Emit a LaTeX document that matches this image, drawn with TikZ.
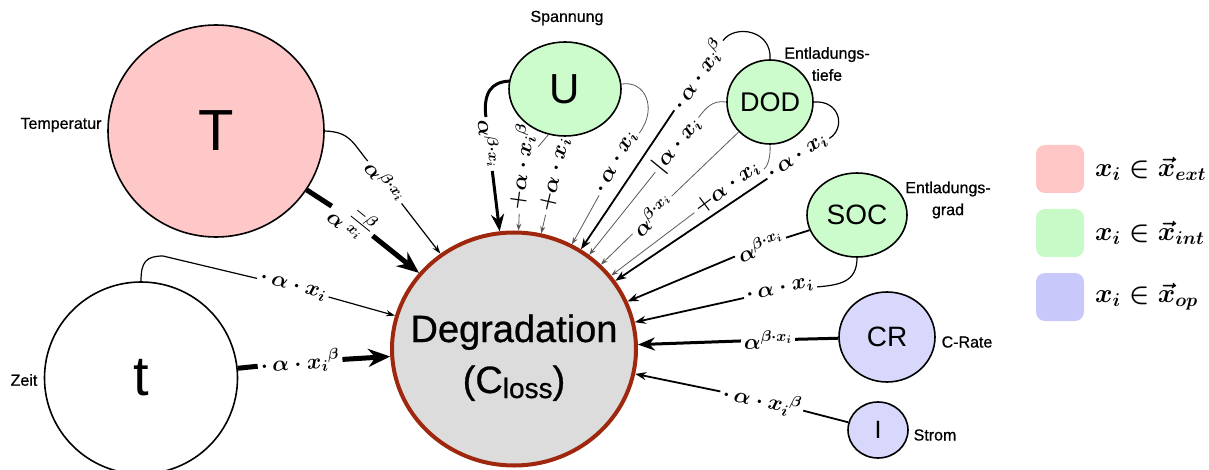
\RequirePackage{fix-cm}
\documentclass[tikz,border=0pt]{standalone}
\usepackage{amsmath}
\usepackage{fontspec}
\newfontfamily\arialf{Liberation Sans}
\newfontfamily\arialh{Liberation Sans}[FakeBold=0.7]
\usetikzlibrary{arrows.meta,shapes.geometric}
\definecolor{extfill}{HTML}{FFC8C8}
\definecolor{intfill}{HTML}{CCFCCC}
\definecolor{opfill}{HTML}{D8D8FC}
\definecolor{extkey}{HTML}{FFC6C6}
\definecolor{intkey}{HTML}{C8FAC8}
\definecolor{opkey}{HTML}{C8C8FA}
\definecolor{degfill}{HTML}{DCDCDC}
\definecolor{degline}{HTML}{9E270E}
\begin{document}
\begin{tikzpicture}[x=1pt,y=-1pt,
  var/.style={ellipse, draw=black, line width=1.6pt, inner sep=0pt},
  tag/.style={font=\arialh\fontsize{16}{22}\selectfont, align=center, inner sep=0pt},
  eq/.style={font=\fontsize{22}{26}\selectfont\boldmath, inner sep=3pt},
  thinC/.style={line width=0.8pt, draw=black!65},
  normC/.style={line width=1.2pt, draw=black},
  medC/.style={line width=1.8pt, draw=black},
  heavyC/.style={line width=3pt, draw=black},
  hugeC/.style={line width=5pt, draw=black},
  thinA/.style={thinC, -{Stealth[length=7pt,width=5pt]}},
  normA/.style={normC, -{Stealth[length=9pt,width=6pt]}},
  medA/.style={medC, -{Stealth[length=11pt,width=8pt]}},
  heavyA/.style={heavyC, -{Stealth[length=17pt,width=13pt]}},
  hugeA/.style={hugeC, -{Stealth[length=22pt,width=18pt]}},
  keybox/.style={rectangle, rounded corners=9pt, minimum width=48pt, minimum height=48pt, inner sep=0pt},
  keytxt/.style={anchor=west, font=\fontsize{26.5}{30}\selectfont\boldmath, inner sep=0pt}
]
\useasboundingbox (0,0) rectangle (1209,470);

% central node
\node[ellipse, draw=degline, line width=4pt, fill=degfill, minimum width=244pt, minimum height=233pt, inner sep=0pt] (D) at (514,349) {};
\node[anchor=base, font=\arialh\fontsize{38}{40}\selectfont, inner sep=0pt] (Dname) at (514,342) {Degradation};
\node[anchor=base, font=\arialh\fontsize{38}{40}\selectfont, inner sep=0pt] (Dsym) at (514,393) {(C\raisebox{-5pt}{\fontsize{28}{28}\selectfont loss})};

% influencing variables
\node[var, fill=extfill, minimum width=216pt, minimum height=212pt, font=\arialf\fontsize{58}{60}\selectfont] (T) at (216,131) {T};
\node[var, fill=white, minimum width=193pt, minimum height=192pt, font=\arialf\fontsize{56}{60}\selectfont] (t) at (141,378) {t};
\node[var, fill=intfill, minimum width=112pt, minimum height=94pt, font=\arialf\fontsize{42}{44}\selectfont] (U) at (565,89) {U};
\node[var, fill=intfill, minimum width=86pt, minimum height=84pt, font=\arialf\fontsize{27}{30}\selectfont] (DOD) at (770,102) {DOD};
\node[var, fill=intfill, minimum width=100pt, minimum height=84pt, font=\arialf\fontsize{28}{30}\selectfont] (SOC) at (857,215) {SOC};
\node[var, fill=opfill, minimum width=96pt, minimum height=90pt, font=\arialf\fontsize{28}{30}\selectfont] (CR) at (887,337) {CR};
\node[var, fill=opfill, minimum width=60pt, minimum height=56pt, font=\arialf\fontsize{25}{28}\selectfont] (I) at (878,430) {I};

% captions
\node[tag] (capT) at (61,125) {Temperatur};
\node[tag] (capt) at (24,380) {Zeit};
\node[tag] (capU) at (567,18) {Spannung};
\node[tag] (capDOD) at (827,64) {Entladungs-\\tiefe};
\node[tag] (capSOC) at (948,200) {Entladungs-\\grad};
\node[tag] (capCR) at (967,342) {C-Rate};
\node[tag] (capI) at (935,435) {Strom};

% formula labels on the connectors
\node[eq, rotate=-52] (L1) at (385,182) {$\alpha^{\beta\cdot x_i}$};
\node[eq, rotate=-39] (L2) at (353,220) {$\alpha^{\genfrac{}{}{}{1}{-\beta}{x_i}}$};
\node[eq, rotate=-15] (L3) at (293,287) {$\cdot\,\alpha\cdot x_i$};
\node[eq, rotate=4] (L4) at (300,362) {$\cdot\,\alpha\cdot {x_i}^{\beta}$};
\node[eq, rotate=-85] (L5) at (489,144) {$\alpha^{\beta\cdot x_i}$};
\node[eq, rotate=82] (L6) at (521,167) {${+}\alpha\cdot {x_i}^{\beta}$};
\node[eq, rotate=77] (L7) at (555,175) {${+}\alpha\cdot x_i$};
\node[eq, rotate=61] (L8) at (617,163) {$\cdot\,\alpha\cdot x_i$};
\node[eq, rotate=56] (L9) at (698,75) {$\cdot\,\alpha\cdot {x_i}^{\beta}$};
\node[eq, rotate=51] (L10) at (677,145) {$|\alpha\cdot x_i$};
\node[eq, rotate=44] (L11) at (652,215) {$\alpha^{\beta\cdot x_i}$};
\node[eq, rotate=37] (L12) at (727,188) {${+}\alpha\cdot x_i$};
\node[eq, rotate=34] (L13) at (798,158) {$\cdot\,\alpha\cdot x_i$};
\node[eq, rotate=23] (L14) at (760,246) {$\alpha^{\beta\cdot x_i}$};
\node[eq, rotate=12] (L15) at (780,290) {$\cdot\,\alpha\cdot x_i$};
\node[eq, rotate=1] (L16) at (768,340) {$\alpha^{\beta\cdot x_i}$};
\node[eq, rotate=-12] (L17) at (762,400) {$\cdot\,\alpha\cdot {x_i}^{\beta}$};

% temperature
\draw[normC] (T.east) .. controls (350,132) and (352,142) .. (L1);
\draw[normA] (L1) -- (D);
\draw[hugeC] (T) -- (L2);
\draw[hugeA] (L2) -- (D);
% time
\draw[normC] (t.north) .. controls (141,262) and (146,256) .. (163,256) -- (L3);
\draw[normA] (L3) -- (D);
\draw[hugeC] (t) -- (L4);
\draw[hugeA] (L4) -- (D);
% voltage
\draw[heavyC] (U.172) .. controls (492,82) and (483,92) .. (L5);
\draw[heavyA] (L5) -- (D);
\draw[thinC] (U.250) -- (L6);
\draw[thinA] (L6) -- (D);
\draw[thinC] (U.272) -- (L7);
\draw[thinA] (L7) -- (D);
\draw[thinC] (U.5) .. controls (645,80) and (658,108) .. (L8);
\draw[thinA] (L8) -- (D);
% depth of discharge
\draw[normC] (DOD.north) .. controls (772,30) and (735,24) .. (L9);
\draw[medA] (L9) -- (D);
\draw[thinC] (DOD.west) .. controls (712,100) and (706,108) .. (L10);
\draw[thinA] (L10) -- (D);
\draw[thinC] (DOD) -- (L11);
\draw[thinA] (L11) -- (D);
\draw[thinC] (DOD.south) .. controls (771,160) and (766,168) .. (L12);
\draw[thinA] (L12) -- (D);
\draw[normC] (DOD.east) .. controls (840,100) and (846,128) .. (L13);
\draw[medA] (L13) -- (D);
% state of charge
\draw[medC] (SOC) -- (L14);
\draw[medA] (L14) -- (D);
\draw[normC] (SOC.south) .. controls (857,282) and (840,285) .. (L15);
\draw[medA] (L15) -- (D);
% C-rate
\draw[heavyC] (CR) -- (L16);
\draw[heavyA] (L16) -- (D);
% current
\draw[medC] (I) -- (L17);
\draw[medA] (L17) -- (D);

% key
\node[keybox, fill=extkey] (k1) at (1060,169) {};
\node[keybox, fill=intkey] (k2) at (1060,233) {};
\node[keybox, fill=opkey] (k3) at (1060,297) {};
\node[keytxt] (k1t) at (1095,169) {$x_i\in\vec{x}_{ext}$};
\node[keytxt] (k2t) at (1095,233) {$x_i\in\vec{x}_{int}$};
\node[keytxt] (k3t) at (1095,297) {$x_i\in\vec{x}_{op}$};
\end{tikzpicture}
\end{document}
